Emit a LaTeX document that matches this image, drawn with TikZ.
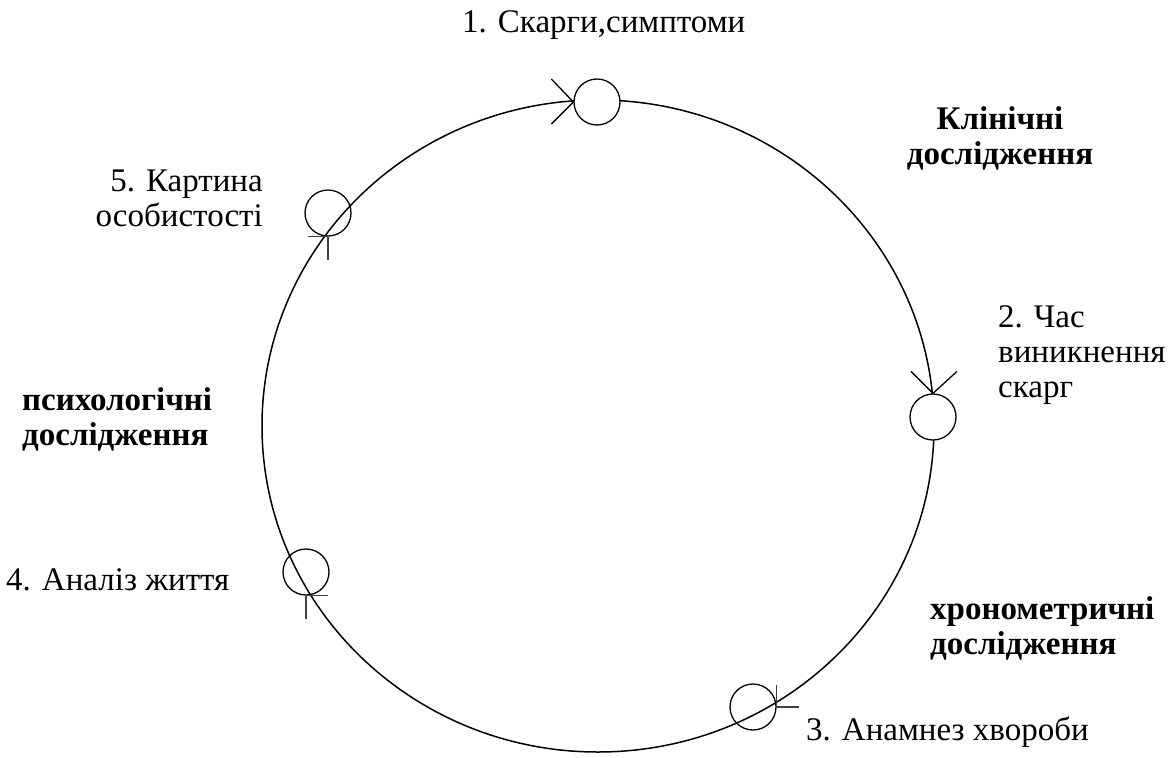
\documentclass[tikz,border=0pt]{standalone}
\usepackage{fontspec}
\setmainfont{Liberation Serif}
\begin{document}
\begin{tikzpicture}[x=1pt,y=-1pt,
  lbl/.style={inner sep=0pt,font=\fontsize{33}{35}\selectfont},
  blbl/.style={lbl,font=\fontsize{33}{35}\selectfont\bfseries},
  stage/.style={circle,draw,line width=1.3pt,minimum size=46pt,inner sep=0pt},
  opaque/.style={stage,fill=white},
  ring/.style={line width=1.5pt},
  tick/.style={line width=1.3pt}]
\useasboundingbox (0,0) rectangle (1176,758);
% main cycle
\draw[ring] (598,426) ellipse [x radius=336pt, y radius=326pt];
% stage circles
\node[opaque] (c1) at (597,102) {};
\node[opaque] (c2) at (933,417) {};
\node[stage]  (c3) at (753,707) {};
\node[stage]  (c4) at (306,572) {};
\node[stage]  (c5) at (328,213) {};
% arrow marks
\draw[tick] (c1.west) -- ++(-22,-23);
\draw[tick] (c1.west) -- ++(-22,22);
\draw[tick] (c2.north) -- ++(-22,-22);
\draw[tick] (c2.north) -- ++(24,-22);
\draw[tick,black!75] (c3.east) -- ++(0,-22);
\draw[tick,black!75] (c3.east) -- ++(22,0);
\draw[tick,black!75] (c4.south) -- ++(0,23);
\draw[tick,black!75] (c4.south) -- ++(22,0);
\draw[tick,black!75] (c5.south) -- ++(-20,0);
\draw[tick,black!75] (c5.south) -- ++(0,23);
% labels
\node[lbl,anchor=base west] (t1) at (462,32) {1. Скарги,симптоми};
\node[lbl,anchor=north west,align=left] (t2) at (998,305) {2. Час\\виникнення\\скарг};
\node[lbl,anchor=base west] (t3) at (806,740) {3. Анамнез хвороби};
\node[lbl,anchor=base west] (t4) at (6,590) {4. Аналіз життя};
\node[lbl,anchor=north east,align=right] (t5) at (263,170) {5. Картина\\особистості};
\node[blbl,anchor=north,align=center] (k1) at (1000,106) {Клінічні\\дослідження};
\node[blbl,anchor=north west,align=left] (k2) at (22,387) {психологічні\\дослідження};
\node[blbl,anchor=north west,align=left] (k3) at (930,596) {хронометричні\\дослідження};
\end{tikzpicture}
\end{document}
